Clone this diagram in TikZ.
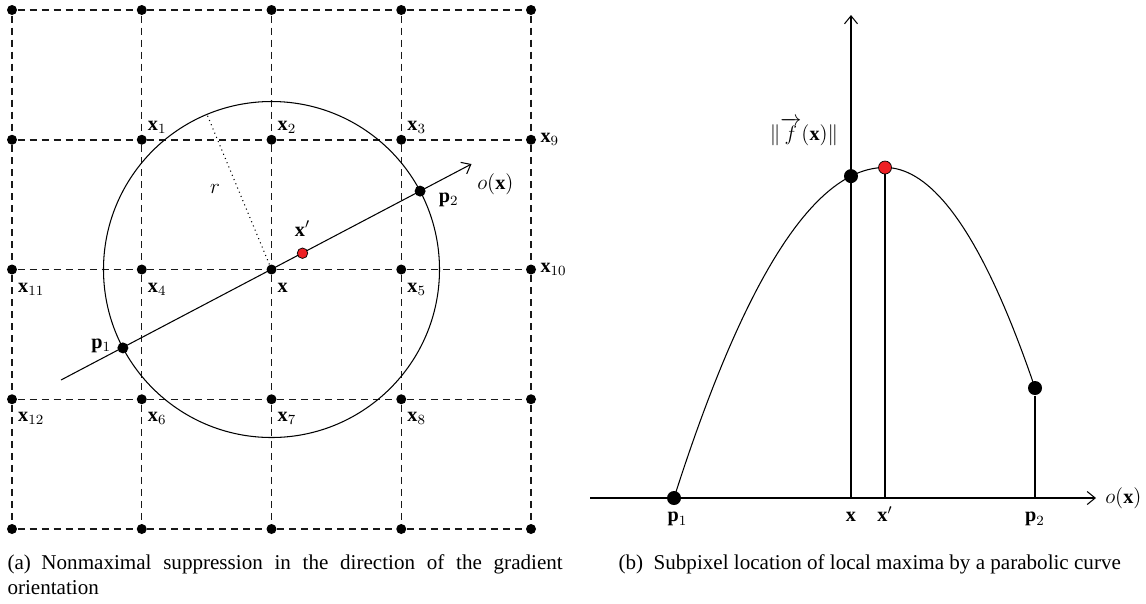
\documentclass[tikz,border=0pt]{standalone}
\usepackage{fontspec}
\setmainfont{Liberation Serif}
\usepackage{amsmath}
\usetikzlibrary{positioning,arrows.meta}
\definecolor{ptred}{RGB}{237,32,36}

\tikzset{
  gdot/.style={circle,fill=black,inner sep=0pt,minimum size=2mm},
  bdot/.style={circle,fill=black,inner sep=0pt,minimum size=2.8mm},
  rdot/.style={circle,draw=black,fill=ptred,line width=0.4pt,inner sep=0pt,minimum size=2.1mm},
  lbl/.style={inner sep=1pt,font=\fontsize{11.5}{14}\selectfont},
  grid line/.style={dash pattern=on 1.4mm off 1mm,draw=black!90,line width=0.85pt},
  caption/.style={inner sep=0pt,font=\fontsize{12}{14.6}\selectfont},
}

\begin{document}
\begin{tikzpicture}[x=0.02cm,y=-0.02cm,line width=0.6pt,>={Straight Barb[length=1.6mm,width=2.6mm]}]
        \useasboundingbox (0,0) rectangle (1146,603);

        % (a) pixel grid
        \foreach \i in {0,...,4}
          \foreach \j in {0,...,4}
            \node[gdot] (g\i\j) at ({12+129.75*\i},{10+129.75*\j}) {};
        \foreach \j in {0,...,4}
          \draw[grid line] (g0\j) -- (g1\j) -- (g2\j) -- (g3\j) -- (g4\j);
        \foreach \i in {0,...,4}
          \draw[grid line] (g\i0) -- (g\i1) -- (g\i2) -- (g\i3) -- (g\i4);

        \draw (g22) circle[radius=168];
        \coordinate (rend) at (207,114.4);
        \draw[dotted] (g22) -- (rend) node[midway,left=9pt,lbl] {$r$};

        \coordinate (ostart) at (61,380);
        \coordinate (oend) at (471.5,164);
        \draw[->] (ostart) -- (oend);
        \node[gdot,minimum size=2.2mm] (pa) at (122.9,347.9) {};
        \node[gdot,minimum size=2.2mm] (pb) at (420.1,191.1) {};
        \node[rdot] (xp) at (302.5,253.2) {};

        \node[lbl,above right=0pt and 0pt of g11] {$\mathbf{x}_1$};
        \node[lbl,above right=0pt and 0pt of g21] {$\mathbf{x}_2$};
        \node[lbl,above right=0pt and 0pt of g31] {$\mathbf{x}_3$};
        \node[lbl,right=1pt of g41] {$\mathbf{x}_9$};
        \node[lbl,right=1pt of g42] {$\mathbf{x}_{10}$};
        \node[lbl,below right=4pt and 0pt of g02] {$\mathbf{x}_{11}$};
        \node[lbl,below right=4pt and 0pt of g12] {$\mathbf{x}_4$};
        \node[lbl,below right=4pt and 0pt of g22] {$\mathbf{x}$};
        \node[lbl,below right=4pt and 0pt of g32] {$\mathbf{x}_5$};
        \node[lbl,below right=4pt and 0pt of g03] {$\mathbf{x}_{12}$};
        \node[lbl,below right=4pt and 0pt of g13] {$\mathbf{x}_6$};
        \node[lbl,below right=4pt and 0pt of g23] {$\mathbf{x}_7$};
        \node[lbl,below right=4pt and 0pt of g33] {$\mathbf{x}_8$};
        \node[lbl,above=5pt of xp] {$\mathbf{x}'$};
        \node[lbl,left=2pt of pa,yshift=1pt] {$\mathbf{p}_1$};
        \node[lbl,right=6pt of pb,yshift=-5pt] {$\mathbf{p}_2$};
        \node[lbl,below right=4pt and 2pt of oend] {$o(\mathbf{x})$};

        % (b) parabola along o(x)
        \coordinate (h0) at (590,498);
        \coordinate (h1) at (1096,498);
        \coordinate (v0) at (851,498);
        \coordinate (v1) at (851,15);
        \draw[->] (h0) -- (h1);
        \draw[->] (v0) -- (v1);
        \draw plot[domain=674:885,samples=50] (\x,{167.5+(0.08616*(\x-885))^2});
        \draw plot[domain=885:1035,samples=40] (\x,{167.5+(0.09899*(\x-885))^2});

        \node[bdot] (q1) at (674,498) {};
        \node[bdot] (qx) at (851,176.1) {};
        \node[rdot,minimum size=2.6mm] (qxp) at (885,167.5) {};
        \node[bdot] (q2) at (1035,388) {};
        \coordinate (qxpb) at (885,498);
        \coordinate (q2b) at (1035,498);
        \draw (qxp) -- (qxpb);
        \draw (q2) -- (q2b);

        \node[lbl,below=7pt of v0] (xl) {$\mathbf{x}$};
        \node[lbl,anchor=base] at (qxpb |- xl.base) {$\mathbf{x}'$};
        \node[lbl,anchor=base,xshift=2pt] at (q1 |- xl.base) {$\mathbf{p}_1$};
        \node[lbl,anchor=base] at (q2b |- xl.base) {$\mathbf{p}_2$};
        \node[lbl,right=4pt of h1] {$o(\mathbf{x})$};
        \coordinate (fy) at (851,132);
        \node[lbl,left=6pt of fy] {$\|\overrightarrow{f}(\mathbf{x})\|$};

        % captions
        \node[caption,anchor=base west,text width=316pt,align=justify] (capa) at (7,569)
          {(a)\enspace Nonmaximal suppression in the direction of the gradient\linebreak orientation};
        \node[caption,anchor=base west] (capb) at (618,569)
          {(b)\enspace Subpixel location of local maxima by a parabolic curve};
    \end{tikzpicture}
\end{document}
